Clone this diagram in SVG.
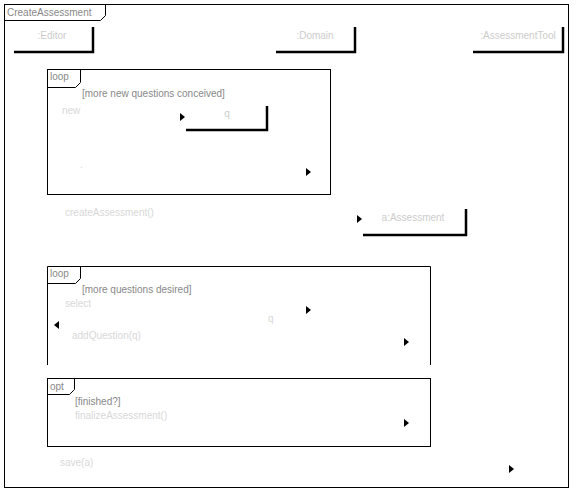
<svg xmlns="http://www.w3.org/2000/svg" width="578" height="491" viewBox="0 0 578 491">
<defs>
<marker id="ah" markerWidth="6" markerHeight="8" refX="5" refY="4" orient="auto" markerUnits="userSpaceOnUse">
<path d="M0,0 L5,4 L0,8 Z" fill="#000"/>
</marker>
<style>
.frame{fill:none;stroke:#000;stroke-width:1}
.head{fill:#fff;stroke:#fff}
.shadow{fill:none;stroke:#000;stroke-width:2.5}
.lbl{font-family:"Liberation Sans",Arial,sans-serif;font-size:10px;fill:#888}
.msgt{font-family:"Liberation Sans",Arial,sans-serif;font-size:10px;fill:#d8d8d8}
.ht{font-family:"Liberation Sans",Arial,sans-serif;font-size:10px;fill:#ccc;text-anchor:middle}
.msg{stroke:#fff;stroke-width:1;fill:none;marker-end:url(#ah)}
</style>
</defs>
<rect width="578" height="491" fill="#fff"/>
<g id="frame">
<rect class="frame" x="4.5" y="4.5" width="564" height="483"/>
<path class="frame" d="M4.5,20.5 H100.5 L105.5,15.5 V4.5"/>
<text class="lbl" x="7" y="16" fill="#666">CreateAssessment</text>
</g>
<g id="editor">
<rect class="head" x="12" y="25" width="79" height="25"/>
<polyline class="shadow" points="93,27 93,52 14,52"/>
<text class="ht" x="52" y="39">:Editor</text>
</g>
<g id="domain">
<rect class="head" x="274" y="25" width="79" height="25"/>
<polyline class="shadow" points="355,27 355,52 276,52"/>
<text class="ht" x="315" y="39">:Domain</text>
</g>
<g id="repository">
<rect class="head" x="471" y="25" width="90" height="25"/>
<polyline class="shadow" points="563,27 563,52 473,52"/>
<text class="ht" x="518" y="39">:AssessmentTool</text>
</g>
<g id="question">
<rect class="head" x="184" y="104" width="81" height="24"/>
<polyline class="shadow" points="267,106 267,130 186,130"/>
<text class="ht" x="227" y="117">q</text>
</g>
<g id="assessment">
<rect class="head" x="361" y="207" width="103" height="26"/>
<polyline class="shadow" points="466,209 466,235 363,235"/>
<text class="ht" x="413" y="221">a:Assessment</text>
</g>
<g id="loop1">
<rect class="frame" x="47.5" y="69.5" width="283" height="125"/>
<path class="frame" d="M47.5,87.5 H75.5 L80.5,82.5 V69.5"/>
<text class="lbl" x="50" y="80" fill="#666">loop</text>
<text class="lbl" x="82" y="97">[more new questions conceived]</text>
</g>
<g id="loop2">
<path class="frame" d="M47.5,365 V266.5 H430.5 V365"/>
<path class="frame" d="M47.5,283.5 H75.5 L80.5,278.5 V266.5"/>
<text class="lbl" x="50" y="277" fill="#666">loop</text>
<text class="lbl" x="82" y="293">[more questions desired]</text>
</g>
<g id="opt">
<rect class="frame" x="47.5" y="378.5" width="383" height="68"/>
<path class="frame" d="M47.5,394.5 H69.5 L74.5,389.5 V378.5"/>
<text class="lbl" x="50" y="390" fill="#666">opt</text>
<text class="lbl" x="75" y="405">[finished?]</text>
</g>
<g id="connectors">
<line class="msg" x1="53" y1="117" x2="185" y2="117"/>
<text class="msgt" x="62" y="114">new</text>
<line class="msg" x1="53" y1="172" x2="311" y2="172"/>
<text class="msgt" x="80" y="168">.</text>
<line class="msg" x1="53" y1="219" x2="362" y2="219"/>
<text class="msgt" x="65" y="216">createAssessment()</text>
<line class="msg" x1="53" y1="310" x2="311" y2="310"/>
<text class="msgt" x="65" y="307">select</text>
<line class="msg" x1="311" y1="325" x2="54" y2="325"/>
<text class="msgt" x="268" y="322">q</text>
<line class="msg" x1="53" y1="342" x2="409" y2="342"/>
<text class="msgt" x="72" y="339">addQuestion(q)</text>
<line class="msg" x1="53" y1="423" x2="409" y2="423"/>
<text class="msgt" x="75" y="419">finalizeAssessment()</text>
<line class="msg" x1="53" y1="469" x2="514" y2="469"/>
<text class="msgt" x="60" y="466">save(a)</text>
</g>
</svg>
